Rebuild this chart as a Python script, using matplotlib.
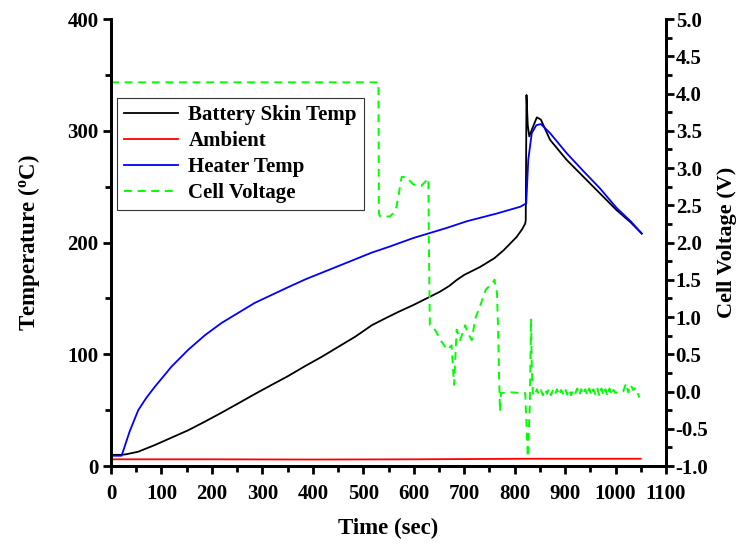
import matplotlib
matplotlib.use("Agg")
import matplotlib.pyplot as plt
from matplotlib.ticker import MultipleLocator

plt.rcParams["font.family"] = ["Liberation Serif", "DejaVu Serif"]
plt.rcParams["font.weight"] = "bold"
plt.rcParams["mathtext.default"] = "regular"

# Battery skin temperature (deg C)
t_skin = [0, 20, 30, 54, 87, 120, 153, 186, 219, 252, 285, 318, 351, 385, 418,
          451, 484, 517, 543, 570, 599, 630, 652, 670, 685, 700, 731, 760, 778,
          804, 815, 821, 822, 823.5, 826, 829, 835, 844, 852, 870, 903, 936,
          969, 1002, 1030, 1052]
T_skin = [10, 10, 10.5, 12.8, 18.8, 25.4, 32, 39.7, 47.7, 56, 64.4, 72.5, 80.5,
          89.5, 97.8, 106.8, 115.7, 126, 132, 138, 144, 151, 156, 161, 166.4,
          171, 178, 186, 193, 205, 212, 217, 220, 332, 305, 295, 302, 312, 310,
          292, 274, 259, 244, 229, 218, 208]

# Ambient (deg C)
t_amb = [0, 200, 400, 600, 820, 1050]
T_amb = [6, 6, 5.8, 6, 6.5, 6.5]

# Heater temperature (deg C)
t_heat = [0, 21, 37, 54, 70, 87, 120, 153, 186, 219, 252, 285, 318, 351, 385,
          418, 451, 484, 517, 550, 599, 665, 705, 765, 811, 823, 827, 834, 843,
          852, 870, 903, 936, 969, 1002, 1030, 1052]
T_heat = [9.2, 9.2, 31, 50, 61, 71, 89, 104, 117, 128, 137, 146, 153, 160,
          167, 173, 179, 185, 191, 196, 204, 213, 219, 226, 232, 235, 274, 298,
          305, 306, 298, 280, 264, 248.5, 231, 219, 208]

# Cell voltage (V)
t_volt = [0, 530, 531, 533, 553, 560, 566, 576, 585, 599, 615, 629, 630, 632,
          642, 655, 667, 675, 680, 685, 692, 702, 706, 715, 722, 731, 743, 755,
          760, 765, 767, 769, 771, 773, 791, 810, 821, 826, 830, 832.5, 834, 836,
          840, 844, 848, 852, 856, 860, 864, 868, 872, 876, 880, 884, 888, 892,
          896, 900, 904, 908, 912, 916, 920, 924, 928, 932, 936, 940, 944, 948,
          952, 956, 960, 964, 968, 972, 976, 980, 984, 988, 992, 996, 1000,
          1005, 1010, 1015, 1021, 1025, 1030, 1035, 1040, 1047]
V_cell = [4.15, 4.15, 2.39, 2.35, 2.35, 2.40, 2.48, 2.88, 2.88, 2.78, 2.76,
          2.86, 2.0, 0.89, 0.83, 0.67, 0.56, 0.62, 0.09, 0.83, 0.69, 0.89, 0.80,
          0.69, 0.98, 1.14, 1.37, 1.45, 1.50, 1.32, 0.88, 0.25, -0.27, -0.02,
          -0.01, -0.02, -0.02, -0.88, -0.2, 0.98, 0.3, -0.02,
          -0.06, 0.03, -0.04, 0.02, -0.05, 0.03, -0.03, 0.04, -0.05, 0.02,
          -0.04, 0.03, -0.05, 0.02, -0.03, 0.04, -0.04, 0.03, -0.05, 0.02,
          -0.03, 0.04, -0.05, 0.03, -0.04, 0.03, -0.05, 0.04, -0.05, 0.03,
          -0.04, 0.04, -0.06, 0.04, -0.05, 0.03, -0.06, 0.04, -0.05, 0.02,
          -0.02, -0.01, -0.02, 0.0, 0.11, -0.01, 0.09, 0.02, 0.05, -0.08]


fig, ax = plt.subplots(figsize=(7.5, 5.48), dpi=100)
fig.subplots_adjust(left=0.148, right=0.888, bottom=0.1496, top=0.9653)
ax2 = ax.twinx()

h1, = ax.plot(t_skin, T_skin, color="black", lw=1.3, label="Battery Skin Temp")
h2, = ax.plot(t_amb, T_amb, color="#ff0000", lw=1.3, label="Ambient")
h3, = ax.plot(t_heat, T_heat, color="#0000ff", lw=1.3, label="Heater Temp")
h4, = ax2.plot(t_volt, V_cell, color="#00ff00", lw=1.4, ls=(0, (4, 3)),
               label="Cell Voltage")

ax.set_xlim(0, 1100)
ax.set_ylim(0, 400)
ax2.set_ylim(-1.0, 5.0)

ax.xaxis.set_major_locator(MultipleLocator(100))
ax.xaxis.set_minor_locator(MultipleLocator(50))
ax.yaxis.set_major_locator(MultipleLocator(100))
ax.yaxis.set_minor_locator(MultipleLocator(50))
ax2.yaxis.set_major_locator(MultipleLocator(0.5))
ax2.yaxis.set_minor_locator(MultipleLocator(0.25))
ax2.yaxis.set_major_formatter(lambda v, p: f"{v:.1f}")

for a in (ax, ax2):
    a.spines["top"].set_visible(False)
    for s in ("left", "right", "bottom"):
        a.spines[s].set_linewidth(2)
    a.tick_params(which="major", length=6, width=2, labelsize=15)
    a.tick_params(which="minor", length=4, width=2)
ax.tick_params(axis="x", which="major", pad=7)
ax.tick_params(axis="y", which="major", pad=3)
ax2.tick_params(axis="y", which="major", pad=1)

ax.set_xlabel("Time (sec)", fontsize=16.5, fontweight="bold", labelpad=10)
ax.set_ylabel("Temperature ($^{o}$C)", fontsize=16.5, fontweight="bold",
              labelpad=18)
ax2.set_ylabel("Cell Voltage (V)", fontsize=16, fontweight="bold",
               labelpad=6)

leg = ax.legend(handles=[h1, h2, h3, h4], loc="upper left",
                bbox_to_anchor=(0.01, 0.823), borderaxespad=0,
                fontsize=15, frameon=True, fancybox=False, handlelength=2.6,
                labelspacing=0.28, borderpad=0.35, handletextpad=0.5)
leg.get_frame().set_edgecolor("black")
leg.get_frame().set_linewidth(0.8)
for txt in leg.get_texts():
    txt.set_fontweight("bold")

fig.savefig("out.png", dpi=100, facecolor="white")
